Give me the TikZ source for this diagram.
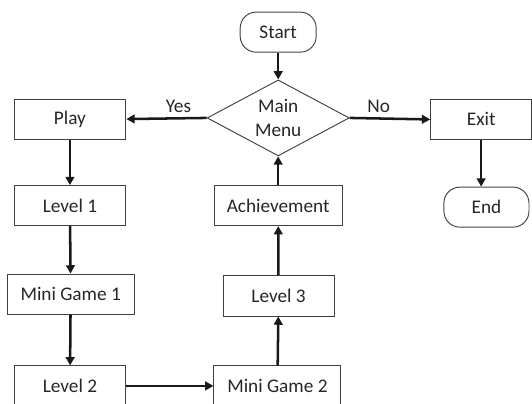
\documentclass[tikz,border=0pt]{standalone}
\usepackage{fontspec}
\setmainfont{Carlito}
\usetikzlibrary{arrows.meta, positioning, shapes.geometric}
\usepackage{xcolor}

\begin{document}
\begin{tikzpicture}[font=\fontsize{14.5}{17.5}\selectfont,
    box/.style={draw=black!75,line width=0.7pt,minimum height=1.06cm,align=center,text=black!85},
    term/.style={box,rounded corners=12pt},
    choice/.style={diamond,draw=black!75,line width=0.7pt,inner sep=0pt,aspect=1.87,
      minimum width=3.76cm,minimum height=2.01cm,align=center,text=black!85},
    arr/.style={-{Triangle[length=2.2mm,width=2.3mm]},line width=1.9pt,black!90},
    lbl/.style={text=black!85}]
    \useasboundingbox (0,0) rectangle (14.075,-10.663);
    % Start / menu
    \node[term,minimum width=2.01cm]  (start) at (7.36,-0.85)  {Start};
    \node[choice]                      (menu)  at (7.36,-3.12)  {Main\\Menu};
    % Left column
    \node[box,minimum width=2.96cm]   (play)    at (1.85,-3.15)  {Play};
    \node[box,minimum width=2.96cm]   (lvlone)  at (1.85,-5.44)  {Level 1};
    \node[box,minimum width=3.36cm]   (minione) at (1.87,-7.78)  {Mini Game 1};
    \node[box,minimum width=2.96cm]   (lvltwo)  at (1.85,-10.21) {Level 2};
    % Middle column
    \node[box,minimum width=3.36cm]   (minitwo) at (7.34,-10.21) {Mini Game 2};
    \node[box,minimum width=2.94cm]   (lvlthree) at (7.37,-7.83) {Level 3};
    \node[box,minimum width=3.39cm]   (achieve) at (7.36,-5.44)  {Achievement};
    % Right column
    \node[box,minimum width=2.67cm]   (exit)   at (12.73,-3.16) {Exit};
    \node[term,minimum width=2.25cm]  (finish) at (12.87,-5.48) {End};
    % Arrows
    \draw[arr] (start) -- (menu);
    \draw[arr] (menu.west) -- (play.east) node[lbl,above,pos=0.35]{Yes};
    \draw[arr] (menu.east) -- (exit.west) node[lbl,above,pos=0.36]{No};
    \draw[arr] (exit) -- (exit |- finish.north);
    \draw[arr] (play) -- (lvlone);
    \draw[arr] (lvlone) -- (minione);
    \draw[arr] (minione) -- (lvltwo);
    \draw[arr] (lvltwo) -- (minitwo);
    \draw[arr] (minitwo) -- (lvlthree);
    \draw[arr] (lvlthree) -- (achieve);
    \draw[arr] (achieve) -- (menu);
  \end{tikzpicture}
\end{document}
